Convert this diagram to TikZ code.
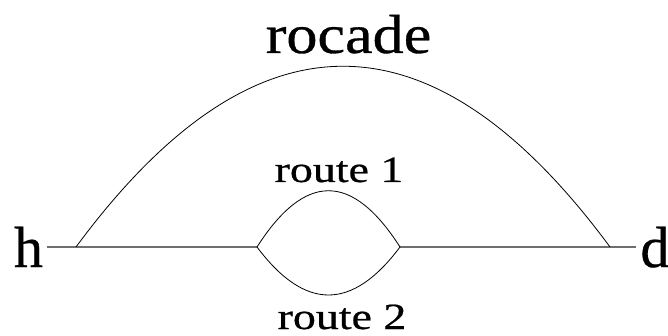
\documentclass[tikz,border=0pt]{standalone}
\usepackage{fontspec}
\usepackage{graphicx}
\setmainfont{Liberation Serif}[FakeBold=0.6]
\begin{document}
\begin{tikzpicture}[x=1pt,y=-1pt,
  lbl/.style={inner sep=0pt,outer sep=0pt,anchor=base},
  curve/.style={draw=black,line width=0.8pt},
  hline/.style={draw={rgb,255:red,110;green,110;blue,110},line width=1.3pt}]
\useasboundingbox (0,0) rectangle (668,336);
% labels
\node[lbl] (h) at (28.5,267) {\fontsize{58}{60}\selectfont h};
\node[lbl] (d) at (655,267) {\fontsize{58}{60}\selectfont d};
\node[lbl] (rocade) at (348.5,53) {\scalebox{1.13}[1]{\fontsize{55}{60}\selectfont rocade}};
\node[lbl] (r1) at (339,182) {\scalebox{1.24}[1]{\fontsize{37}{40}\selectfont route 1}};
\node[lbl] (r2) at (342,329) {\scalebox{1.24}[1]{\fontsize{37}{40}\selectfont route 2}};
% junction points
\coordinate (a1) at (76,247);
\coordinate (a2) at (610,247);
\coordinate (l1) at (257,247);
\coordinate (l2) at (400,247);
\coordinate (hs) at (47,247);
\coordinate (de) at (636,247);
% horizontal line
\draw[hline] (hs) -- (l1);
\draw[hline] (l2) -- (de);
% big arc
\draw[curve] (a1) .. controls (254,6) and (432,6) .. (a2);
% lens
\draw[curve] (l1) .. controls (305,172) and (352,172) .. (l2);
\draw[curve] (l1) .. controls (305,311) and (352,311) .. (l2);
\end{tikzpicture}
\end{document}
